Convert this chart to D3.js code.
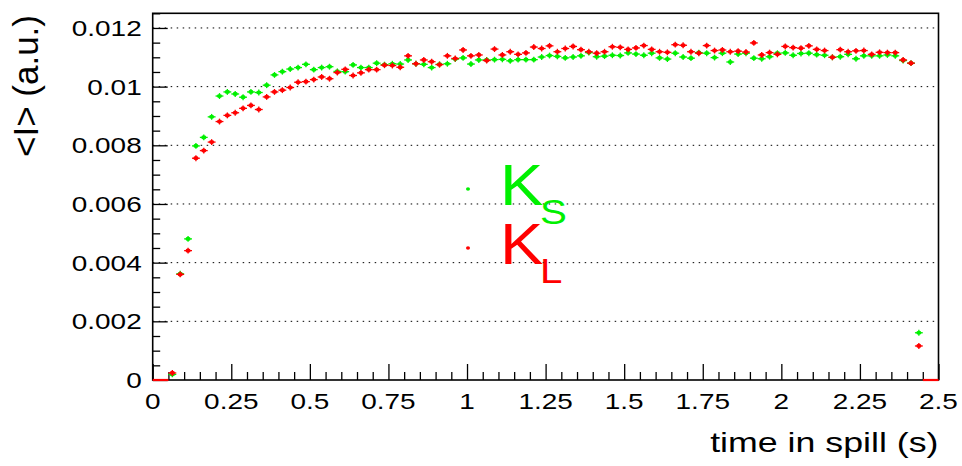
<!DOCTYPE html>
<html>
<head>
<meta charset="utf-8">
<script src="https://cdn.jsdelivr.net/npm/d3@7"></script>
<style>
  html, body { margin: 0; padding: 0; background: #fff; }
  svg { display: block; }
  text { font-family: "Liberation Sans", Arial, Helvetica, sans-serif; fill: #000; }
</style>
</head>
<body>
<svg id="chart" width="962" height="466"></svg>
<script>
// Histogram binning of the spill time axis (s)
const binStart = 0.05;
const binWidth = 0.025;

// Mean intensity per time bin, K_S beam (green)
const ksValues = [
  0.00019, 0.00362, 0.00481, 0.00798, 0.00827, 0.00897, 0.00968, 0.00982, 0.00975, 0.00964,
  0.00982, 0.00980, 0.01005, 0.01040, 0.01051, 0.01060, 0.01065, 0.01076, 0.01058, 0.01065,
  0.01068, 0.01052, 0.01051, 0.01074, 0.01065, 0.01065, 0.01080, 0.01075, 0.01078, 0.01077,
  0.01091, 0.01078, 0.01076, 0.01065, 0.01076, 0.01078, 0.01094, 0.01098, 0.01077, 0.01091,
  0.01091, 0.01092, 0.01093, 0.01088, 0.01092, 0.01092, 0.01092, 0.01101, 0.01106, 0.01103,
  0.01098, 0.01101, 0.01105, 0.01116, 0.01102, 0.01104, 0.01107, 0.01106, 0.01115, 0.01111,
  0.01107, 0.01114, 0.01098, 0.01094, 0.01114, 0.01101, 0.01097, 0.01116, 0.01114, 0.01099,
  0.01114, 0.01084, 0.01111, 0.01114, 0.01097, 0.01095, 0.01102, 0.01114, 0.01115, 0.01107,
  0.01113, 0.01114, 0.01109, 0.01107, 0.01100, 0.01102, 0.01110, 0.01095, 0.01105, 0.01105,
  0.01105, 0.01108, 0.01105, 0.01089, 0.01080, 0.00161
];

// Mean intensity per time bin, K_L beam (red)
const klValues = [
  0.00024, 0.00360, 0.00441, 0.00756, 0.00782, 0.00811, 0.00881, 0.00902, 0.00911, 0.00926,
  0.00936, 0.00922, 0.00965, 0.00982, 0.00988, 0.00997, 0.01015, 0.01017, 0.01024, 0.01033,
  0.01027, 0.01048, 0.01059, 0.01038, 0.01047, 0.01058, 0.01058, 0.01073, 0.01072, 0.01066,
  0.01105, 0.01078, 0.01091, 0.01085, 0.01075, 0.01105, 0.01096, 0.01125, 0.01105, 0.01108,
  0.01089, 0.01128, 0.01108, 0.01119, 0.01110, 0.01115, 0.01135, 0.01130, 0.01139, 0.01119,
  0.01130, 0.01137, 0.01126, 0.01119, 0.01114, 0.01119, 0.01136, 0.01134, 0.01127, 0.01132,
  0.01140, 0.01127, 0.01119, 0.01117, 0.01143, 0.01141, 0.01119, 0.01114, 0.01140, 0.01123,
  0.01125, 0.01119, 0.01121, 0.01118, 0.01149, 0.01108, 0.01116, 0.01110, 0.01137, 0.01133,
  0.01131, 0.01139, 0.01127, 0.01123, 0.01100, 0.01126, 0.01119, 0.01122, 0.01123, 0.01110,
  0.01117, 0.01116, 0.01116, 0.01091, 0.01080, 0.00116
];

// Axis ticks and labels
const xMajorTicks = [0, 0.25, 0.5, 0.75, 1, 1.25, 1.5, 1.75, 2, 2.25, 2.5];
const xTickLabels = ["0", "0.25", "0.5", "0.75", "1", "1.25", "1.5", "1.75", "2", "2.25", "2.5"];
const yMajorTicks = [0, 0.002, 0.004, 0.006, 0.008, 0.01, 0.012];
const yTickLabels = ["0", "0.002", "0.004", "0.006", "0.008", "0.01", "0.012"];
const xMinorStep = 0.05;
const yMinorStep = 0.0005;
const xDomain = [0, 2.5];
const yDomain = [0, 0.0125];
const yErr = 0.0001;

// Empty bins drawn as a line at zero
const emptyRanges = [[0, 0.05], [2.45, 2.5]];

const green = "#00f000";
const red = "#ff0000";
const series = [
  { name: "S", values: ksValues, color: green },
  { name: "L", values: klValues, color: red }
];

const plot = { left: 152.7, right: 938.5, top: 13.3, bottom: 380 };
const sx = 1.3; // horizontal aspect of the label glyphs

const svg = d3.select("#chart");
const x = d3.scaleLinear().domain(xDomain).range([plot.left, plot.right]);
const y = d3.scaleLinear().domain(yDomain).range([plot.bottom, plot.top]);

const centers = ksValues.map((_, i) => binStart + binWidth * (i + 0.5));

// Horizontal dotted grid
svg.append("g")
  .selectAll("line")
  .data(yMajorTicks.filter(v => v > 0))
  .join("line")
  .attr("x1", plot.left).attr("x2", plot.right)
  .attr("y1", d => y(d)).attr("y2", d => y(d))
  .attr("stroke", "#000").attr("stroke-width", 1)
  .attr("stroke-dasharray", "1.5,4.5");

// Frame
svg.append("rect")
  .attr("x", plot.left).attr("y", plot.top)
  .attr("width", plot.right - plot.left).attr("height", plot.bottom - plot.top)
  .attr("fill", "none").attr("stroke", "#000").attr("stroke-width", 1.6);

// Tick marks through d3 axes (drawn inward)
const xMinor = d3.range(0, 2.5 + 1e-9, xMinorStep).filter(v => !xMajorTicks.some(m => Math.abs(m - v) < 1e-9));
const yMinor = d3.range(0, 0.0125 + 1e-12, yMinorStep).filter(v => !yMajorTicks.some(m => Math.abs(m - v) < 1e-12));

function styleAxis(g) {
  g.select(".domain").remove();
  g.selectAll("line").attr("stroke", "#000").attr("stroke-width", 1.3);
}
svg.append("g").attr("transform", `translate(0,${plot.bottom})`)
  .call(d3.axisBottom(x).tickValues(xMajorTicks).tickSize(-16).tickFormat(""))
  .call(styleAxis);
svg.append("g").attr("transform", `translate(0,${plot.bottom})`)
  .call(d3.axisBottom(x).tickValues(xMinor).tickSize(-8).tickFormat(""))
  .call(styleAxis);
svg.append("g").attr("transform", `translate(${plot.left},0)`)
  .call(d3.axisLeft(y).tickValues(yMajorTicks).tickSize(-15).tickFormat(""))
  .call(styleAxis);
svg.append("g").attr("transform", `translate(${plot.left},0)`)
  .call(d3.axisLeft(y).tickValues(yMinor).tickSize(-7.5).tickFormat(""))
  .call(styleAxis);

// Tick labels
svg.append("g").selectAll("text")
  .data(yMajorTicks)
  .join("text")
  .attr("transform", d => `translate(${plot.left - 11},${y(d) + 8}) scale(${sx},1)`)
  .attr("text-anchor", "end")
  .attr("font-size", 21.5)
  .text((d, i) => yTickLabels[i]);

svg.append("g").selectAll("text")
  .data(xMajorTicks)
  .join("text")
  .attr("transform", d => `translate(${x(d)},${plot.bottom + 29}) scale(${sx},1)`)
  .attr("text-anchor", "middle")
  .attr("font-size", 21.5)
  .text((d, i) => xTickLabels[i]);

// Axis titles
svg.append("text")
  .attr("transform", `translate(${plot.right},452) scale(${sx},1)`)
  .attr("text-anchor", "end")
  .attr("font-size", 27.5)
  .text("time in spill (s)");

svg.append("text")
  .attr("transform", `translate(38,15) rotate(-90)`)
  .attr("text-anchor", "end")
  .attr("font-size", 35)
  .text("<I> (a.u.)");

// Empty bins at zero
svg.append("g").selectAll("line")
  .data(emptyRanges)
  .join("line")
  .attr("x1", d => x(d[0])).attr("x2", d => x(d[1]))
  .attr("y1", y(0)).attr("y2", y(0))
  .attr("stroke", red).attr("stroke-width", 2.2);

// Data points with error bars
series.forEach(s => {
  const g = svg.append("g");
  const pts = s.values.map((v, i) => ({ c: centers[i], v }));
  g.selectAll("line.h").data(pts).join("line").attr("class", "h")
    .attr("x1", d => x(d.c - binWidth / 2)).attr("x2", d => x(d.c + binWidth / 2))
    .attr("y1", d => y(d.v)).attr("y2", d => y(d.v))
    .attr("stroke", s.color).attr("stroke-width", 1.3);
  g.selectAll("line.v").data(pts).join("line").attr("class", "v")
    .attr("x1", d => x(d.c)).attr("x2", d => x(d.c))
    .attr("y1", d => y(d.v - yErr)).attr("y2", d => y(d.v + yErr))
    .attr("stroke", s.color).attr("stroke-width", 1.3);
  g.selectAll("ellipse").data(pts).join("ellipse")
    .attr("cx", d => x(d.c)).attr("cy", d => y(d.v))
    .attr("rx", 2.6).attr("ry", 2.1)
    .attr("fill", s.color);
});

// Legend: marker plus K with subscript
const legend = [
  { dotY: 189, textY: 205, sub: "S", color: green },
  { dotY: 248, textY: 264, sub: "L", color: red }
];
legend.forEach(l => {
  svg.append("ellipse").attr("cx", 468).attr("cy", l.dotY).attr("rx", 2).attr("ry", 1.7).attr("fill", l.color);
  const t = svg.append("text")
    .attr("transform", `translate(500,${l.textY}) scale(1.12,1)`)
    .style("fill", l.color)
    .attr("font-size", 58);
  t.append("tspan").text("K");
  t.append("tspan").attr("font-size", 36).attr("dx", -3).attr("dy", 19).text(l.sub);
});
</script>
</body>
</html>
